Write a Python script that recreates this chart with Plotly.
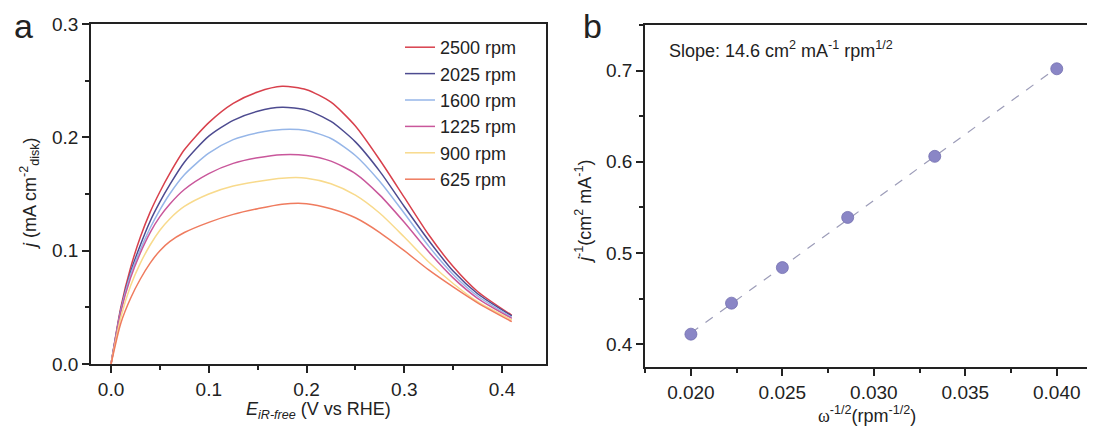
import numpy as np
import plotly.graph_objects as go

W, H = 1095, 435
FONT = "Liberation Sans, Arial, sans-serif"
OFF = 8  # page body margin


def px(p):
    return (p - OFF) / W


def py(p):
    return 1 - (p - OFF) / H


# panel a: LSV curves at different rotation rates
potential = [0, 0.01, 0.02, 0.03, 0.04, 0.05, 0.06, 0.075, 0.1, 0.125, 0.15,
             0.175, 0.2, 0.225, 0.25, 0.275, 0.3, 0.325, 0.35, 0.375, 0.41]
j_2500 = [0, 0.050, 0.085, 0.112, 0.134, 0.152, 0.168, 0.189, 0.213, 0.230, 0.240,
          0.245, 0.242, 0.231, 0.210, 0.180, 0.147, 0.114, 0.086, 0.064, 0.043]
j_2025 = [0, 0.048, 0.081, 0.105, 0.126, 0.143, 0.158, 0.178, 0.201, 0.215, 0.223,
          0.2265, 0.224, 0.214, 0.196, 0.170, 0.139, 0.109, 0.082, 0.062, 0.0424]
j_1600 = [0, 0.047, 0.079, 0.101, 0.120, 0.136, 0.150, 0.167, 0.186, 0.198, 0.204,
          0.207, 0.206, 0.199, 0.184, 0.161, 0.133, 0.104, 0.079, 0.060, 0.0412]
j_1225 = [0, 0.046, 0.076, 0.098, 0.116, 0.130, 0.141, 0.154, 0.168, 0.177, 0.182,
          0.1847, 0.184, 0.179, 0.168, 0.149, 0.125, 0.099, 0.076, 0.058, 0.0403]
j_900 = [0, 0.041, 0.069, 0.089, 0.105, 0.118, 0.128, 0.139, 0.150, 0.157, 0.161,
         0.164, 0.164, 0.159, 0.149, 0.133, 0.112, 0.090, 0.071, 0.055, 0.0389]
j_625 = [0, 0.036, 0.058, 0.075, 0.089, 0.100, 0.108, 0.116, 0.125, 0.132, 0.137,
         0.141, 0.1415, 0.137, 0.129, 0.116, 0.100, 0.083, 0.068, 0.054, 0.0374]

labels = ["2500 rpm", "2025 rpm", "1600 rpm", "1225 rpm", "900 rpm", "625 rpm"]
colors = ["#d8404c", "#4d4b90", "#96b6e8", "#c9579b", "#f8da8c", "#ef7b5e"]

# panel b: Koutecky-Levich points
omega_inv_sqrt = [0.020, 0.02222, 0.025, 0.02857, 0.03333, 0.040]
j_inv = [0.411, 0.445, 0.484, 0.539, 0.606, 0.702]

fig = go.Figure()

for y, name, c in zip([j_2500, j_2025, j_1600, j_1225, j_900, j_625], labels, colors):
    fig.add_trace(go.Scatter(x=potential, y=y, mode="lines", name=name,
                             line=dict(color=c, width=1.5, shape="spline", smoothing=0.7),
                             xaxis="x", yaxis="y"))

# linear fit through the KL points
k, b0 = np.polyfit(omega_inv_sqrt, j_inv, 1)
fx = np.array([omega_inv_sqrt[0], omega_inv_sqrt[-1]])
fig.add_trace(go.Scatter(x=fx, y=k * fx + b0, mode="lines", showlegend=False,
                         line=dict(color="#9c9cb8", width=1.2, dash="dash"),
                         xaxis="x2", yaxis="y2"))
fig.add_trace(go.Scatter(x=omega_inv_sqrt, y=j_inv, mode="markers", showlegend=False,
                         marker=dict(color="#8a86c6", size=12,
                                     line=dict(color="#7470b0", width=0.8)),
                         xaxis="x2", yaxis="y2"))

axis_common = dict(showline=True, linecolor="#222", linewidth=1.5, mirror=True,
                   ticks="outside", ticklen=7, tickwidth=1.5, tickcolor="#222",
                   showgrid=False, zeroline=False,
                   tickfont=dict(family=FONT, size=19, color="#222"),
                   automargin=False)
minor_common = dict(ticks="outside", ticklen=4, tickwidth=1.5, tickcolor="#222")

fig.update_layout(
    width=W, height=H,
    margin=dict(l=0, r=0, t=0, b=0),
    paper_bgcolor="white", plot_bgcolor="white",
    font=dict(family=FONT, size=18, color="#222"),
    xaxis=dict(domain=[px(91), px(546)], range=[-0.0205, 0.445],
               tickvals=[0, 0.1, 0.2, 0.3, 0.4], ticktext=["0.0", "0.1", "0.2", "0.3", "0.4"],
               minor=dict(dtick=0.05, tick0=0, **minor_common),
               anchor="y", **axis_common),
    yaxis=dict(domain=[py(364), py(24)], range=[0, 0.3],
               tickvals=[0, 0.1, 0.2, 0.3], ticktext=["0.0", "0.1", "0.2", "0.3"],
               minor=dict(dtick=0.05, tick0=0, **minor_common),
               anchor="x", **axis_common),
    xaxis2=dict(domain=[px(645), px(1097)], range=[0.01749, 0.0422],
                tickvals=[0.020, 0.025, 0.030, 0.035, 0.040],
                ticktext=["0.020", "0.025", "0.030", "0.035", "0.040"],
                minor=dict(dtick=0.0025, tick0=0.0175, **minor_common),
                anchor="y2", **axis_common),
    yaxis2=dict(domain=[py(367), py(25)], range=[0.375, 0.750],
                tickvals=[0.4, 0.5, 0.6, 0.7],
                minor=dict(dtick=0.05, tick0=0.4, **minor_common),
                anchor="x2", **axis_common),
    legend=dict(x=px(400), y=py(29), xanchor="left", yanchor="top",
                bgcolor="rgba(0,0,0,0)", font=dict(family=FONT, size=18, color="#222"),
                itemwidth=30, tracegroupgap=0),
)

ann = [
    dict(text="a", x=px(23), y=py(26), font=dict(size=34)),
    dict(text="b", x=px(592), y=py(26), font=dict(size=34)),
    dict(text="<i>j</i> (mA cm<sup>-2</sup><sub>disk</sub>)", x=px(30), y=py(194),
         textangle=-90),
    dict(text="<i>E</i><sub><i>iR-free</i></sub> (V vs RHE)", x=px(318), y=py(410)),
    dict(text="<i>j</i><sup>-1</sup>(cm<sup>2</sup> mA<sup>-1</sup>)", x=px(583),
         y=py(212), textangle=-90),
    dict(text="<span style='font-family:Liberation Serif'>ω</span><sup>-1/2</sup>(rpm<sup>-1/2</sup>)",
         x=px(867), y=py(414)),
    dict(text="Slope: 14.6 cm<sup>2</sup> mA<sup>-1</sup> rpm<sup>1/2</sup>", x=px(667),
         y=py(50), xanchor="left", font=dict(size=18)),
]
for a in ann:
    a.setdefault("xanchor", "center")
    a.setdefault("yanchor", "middle")
    a.setdefault("font", dict(size=18))
    a["font"] = dict(family=FONT, color="#222", **a["font"])
    fig.add_annotation(xref="paper", yref="paper", showarrow=False, **a)

fig.write_html("out.html")
